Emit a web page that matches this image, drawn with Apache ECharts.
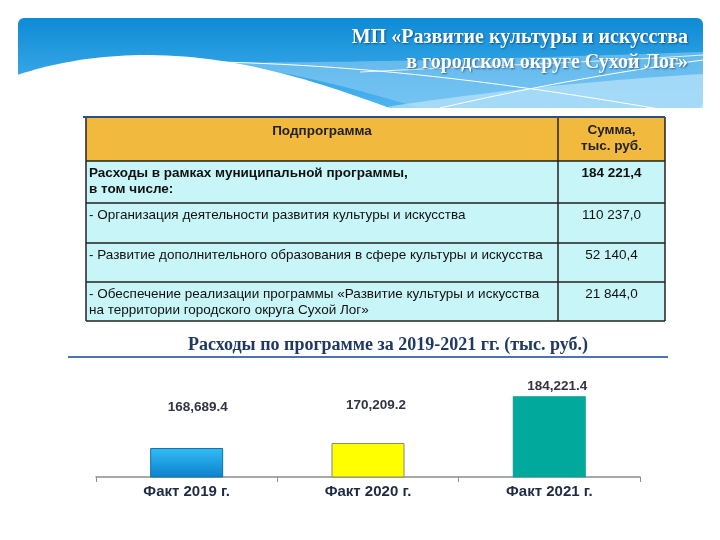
<!DOCTYPE html>
<html>
<head>
<meta charset="utf-8">
<script src="https://cdn.jsdelivr.net/npm/echarts@6/dist/echarts.min.js"></script>
<style>html,body{margin:0;padding:0;background:#fff;}#c{width:720px;height:540px;}</style>
</head>
<body>
<div id="c"></div>
<script>
// ---- data ----
const pageTitle = ['МП «Развитие культуры и искусства', 'в городском округе Сухой Лог»'];
const tableHeaders = ['Подпрограмма', 'Сумма,\nтыс. руб.'];
const tableNames = [
  'Расходы в рамках муниципальной программы,\nв том числе:',
  '- Организация деятельности развития культуры и искусства',
  '- Развитие дополнительного образования в сфере культуры и искусства',
  '- Обеспечение реализации программы «Развитие культуры и искусства\nна территории городского округа Сухой Лог»'
];
const tableSums = ['184 221,4', '110 237,0', '52 140,4', '21 844,0'];
const chartTitle = 'Расходы по программе за 2019-2021 гг. (тыс. руб.)';
const categories = ['Факт 2019 г.', 'Факт 2020 г.', 'Факт 2021 г.'];
const values = [168689.4, 170209.2, 184221.4];

// ---- layout / style ----
const rowY = [117, 161, 203, 243, 282, 321];
const colX = [86, 558, 665];
const fontT = '13.5px "Liberation Sans", Arial, sans-serif';
const fontTB = 'bold 13.5px "Liberation Sans", Arial, sans-serif';

// decorative curve sampler (banner shape only)
function bez(p0, c1, c2, p1, n) {
  const pts = [];
  for (let i = 0; i <= n; i++) {
    const t = i / n, u = 1 - t;
    pts.push([
      u*u*u*p0[0] + 3*u*u*t*c1[0] + 3*u*t*t*c2[0] + t*t*t*p1[0],
      u*u*u*p0[1] + 3*u*u*t*c1[1] + 3*u*t*t*c2[1] + t*t*t*p1[1]
    ]);
  }
  return pts;
}

const g = [];
// banner
g.push({type:'rect', shape:{x:18,y:18,width:685,height:90,r:6}, style:{fill:new echarts.graphic.LinearGradient(0,0,0,1,[{offset:0,color:'#0d8bd6'},{offset:1,color:'#4fb5ee'}])}, z:1});
// lighter waves
g.push({type:'polygon', shape:{points:[].concat(bez([200,62],[330,64],[520,58],[703,52],30),[[703,108],[420,108]],bez([420,108],[360,90],[280,68],[200,62],30))}, style:{fill:'rgba(150,210,245,0.55)'}, z:2});
g.push({type:'polygon', shape:{points:[].concat(bez([380,108],[480,92],[600,80],[703,74],30),[[703,108]])}, style:{fill:'rgba(185,228,250,0.7)'}, z:2});
// white wave
g.push({type:'polygon', shape:{points:[].concat(bez([14,76],[50,64],[90,56],[140,55],20),bez([140,55],[230,54],[310,78],[400,112],30),[[14,112]])}, style:{fill:'#ffffff'}, z:3});
// thin white lines
g.push({type:'bezierCurve', shape:{x1:220,y1:62,cpx1:380,cpy1:66,cpx2:520,cpy2:85,x2:665,y2:110}, style:{stroke:'#ffffff',lineWidth:1,fill:null}, z:4});
g.push({type:'bezierCurve', shape:{x1:440,y1:108,cpx1:540,cpy1:85,cpx2:630,cpy2:70,x2:703,y2:60}, style:{stroke:'#ffffff',lineWidth:1,fill:null}, z:4});
g.push({type:'bezierCurve', shape:{x1:360,y1:72,cpx1:480,cpy1:66,cpx2:600,cpy2:62,x2:703,y2:55}, style:{stroke:'rgba(255,255,255,0.8)',lineWidth:1,fill:null}, z:4});
// page title
pageTitle.forEach((t,i)=>{
  g.push({type:'text', style:{text:t, x:688, y:38+i*25, align:'right', verticalAlign:'middle', font:'bold 20px "Liberation Serif", "Times New Roman", serif', fill:'#ffffff', textShadowColor:'rgba(0,40,90,0.6)', textShadowBlur:2, textShadowOffsetX:1, textShadowOffsetY:1}, z:5});
});

// table backgrounds
g.push({type:'rect', shape:{x:colX[0],y:rowY[0],width:colX[2]-colX[0],height:rowY[1]-rowY[0]}, style:{fill:'#f2b93f'}, z:1});
g.push({type:'rect', shape:{x:colX[0],y:rowY[1],width:colX[2]-colX[0],height:rowY[5]-rowY[1]}, style:{fill:'#c8f5f8'}, z:1});
// borders
for (let i=1;i<rowY.length;i++) g.push({type:'line', shape:{x1:colX[0],y1:rowY[i],x2:colX[2],y2:rowY[i]}, style:{stroke:'#222',lineWidth:1.5}, z:3});
colX.forEach(x=>g.push({type:'line', shape:{x1:x,y1:rowY[0],x2:x,y2:rowY[5]}, style:{stroke:'#222',lineWidth:1.5}, z:3}));
g.push({type:'line', shape:{x1:83,y1:rowY[0],x2:colX[2],y2:rowY[0]}, style:{stroke:'#2f4f80',lineWidth:2}, z:3});
// header text
g.push({type:'text', style:{text:tableHeaders[0], x:(colX[0]+colX[1])/2, y:131, align:'center', verticalAlign:'middle', font:fontTB, fill:'#222'}, z:4});
g.push({type:'text', style:{text:tableHeaders[1], x:(colX[1]+colX[2])/2, y:122, align:'center', verticalAlign:'top', font:fontTB, fill:'#222', lineHeight:16}, z:4});
// rows
tableNames.forEach((t,i)=>{
  g.push({type:'text', style:{text:t, x:colX[0]+3, y:rowY[i+1]+4, align:'left', verticalAlign:'top', font:i===0?fontTB:fontT, fill:'#111', lineHeight:16}, z:4});
  g.push({type:'text', style:{text:tableSums[i], x:(colX[1]+colX[2])/2, y:rowY[i+1]+4, align:'center', verticalAlign:'top', font:i===0?fontTB:fontT, fill:'#111', lineHeight:16}, z:4});
});
// chart title & rule
g.push({type:'text', style:{text:chartTitle, x:388, y:345, align:'center', verticalAlign:'middle', font:'bold 18px "Liberation Serif", "Times New Roman", serif', fill:'#1f3864'}, z:4});
g.push({type:'line', shape:{x1:68,y1:357,x2:668,y2:357}, style:{stroke:'#4a74b4',lineWidth:2}, z:4});

const barStyles = [
  {color:new echarts.graphic.LinearGradient(0,0,0,1,[{offset:0,color:'#33bdf5'},{offset:1,color:'#0b80cc'}]), borderColor:'#1470aa', borderWidth:1},
  {color:'#ffff00', borderColor:'#8a8a6a', borderWidth:1},
  {color:'#00a99c', borderColor:'#009085', borderWidth:0.5}
];
const labelOffsets = [[11,-29],[8,-26],[8,2]];

const chart = echarts.init(document.getElementById('c'));
chart.setOption({
  animation:false,
  graphic:{elements:g},
  grid:{left:96, right:80, top:377, bottom:63},
  xAxis:{type:'category', data:categories,
    axisLine:{lineStyle:{color:'#8c8c8c', width:1.5}},
    axisTick:{show:true, length:5, lineStyle:{color:'#8c8c8c'}},
    axisLabel:{fontSize:15, fontWeight:'bold', color:'#1f2a44', fontFamily:'"Liberation Sans", Arial, sans-serif', margin:7}},
  yAxis:{type:'value', min:160000, max:190000, show:false, splitLine:{show:false}},
  series:[{type:'bar', barWidth:73,
    data:values.map((v,i)=>({value:v, itemStyle:barStyles[i], label:{offset:labelOffsets[i]}})),
    label:{show:true, position:'top', fontSize:13.5, fontWeight:'bold', color:'#333344', fontFamily:'"Liberation Sans", Arial, sans-serif',
      formatter:p=>p.value.toLocaleString('en-US',{minimumFractionDigits:1, maximumFractionDigits:1})}
  }]
});
</script>
</body>
</html>
